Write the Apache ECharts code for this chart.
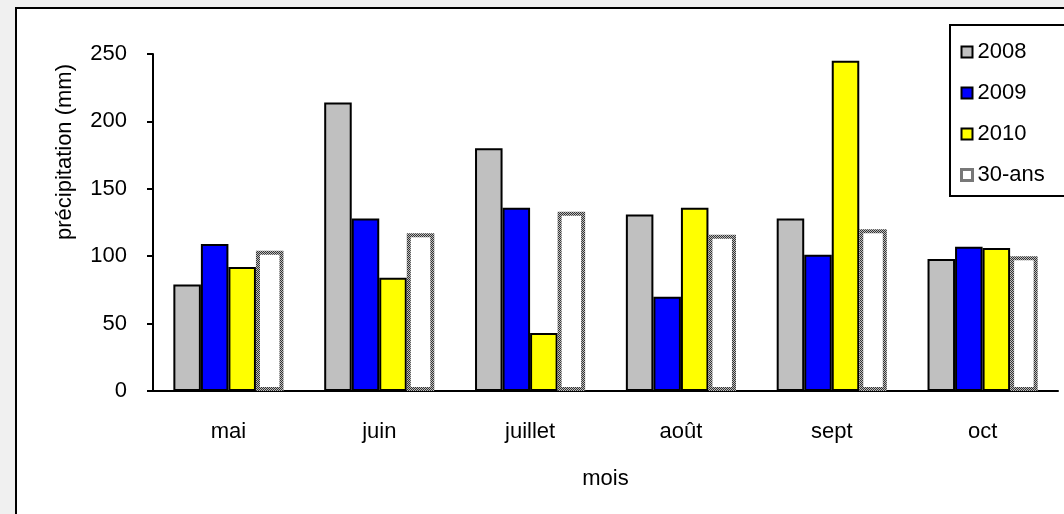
<!DOCTYPE html>
<html>
<head>
<meta charset="utf-8">
<script src="https://cdn.jsdelivr.net/npm/echarts@6/dist/echarts.min.js"></script>
<style>
  html, body { margin: 0; padding: 0; background: #f0f0f0; }
  #chart { width: 1064px; height: 514px; }
</style>
</head>
<body>
<div id="chart"></div>
<script>
// donnees
const months = ["mai", "juin", "juillet", "août", "sept", "oct"];
const seriesNames = ["2008", "2009", "2010", "30-ans"];
const v2008 = [79, 214, 180, 131, 128, 98];
const v2009 = [109, 128, 136, 70, 101, 107];
const v2010 = [92, 84, 43, 136, 245, 106];
const v30ans = [104, 117, 133, 116, 120, 100];
const yTicks = [0, 50, 100, 150, 200, 250];

const FONT = "Liberation Sans";
const FS = 22;

// motif a damier pour le contour des barres 30-ans
function checker() {
  let c = document.createElement("canvas");
  c.width = 2;
  c.height = 2;
  let ctx = c.getContext("2d");
  ctx.fillStyle = "#bdbdbd";
  ctx.fillRect(0, 0, 2, 2);
  ctx.fillStyle = "#333333";
  ctx.fillRect(0, 0, 1, 1);
  ctx.fillRect(1, 1, 1, 1);
  return { image: c, repeat: "repeat" };
}
const hatch = checker();

let chart = echarts.init(document.getElementById("chart"));

function bar(name, data, color, border) {
  return {
    name: name,
    type: "bar",
    data: data,
    barGap: "0%",
    barCategoryGap: "27%",
    itemStyle: {
      color: color,
      borderColor: border || "#000",
      borderWidth: border ? 4 : 2,
    },
    emphasis: { disabled: true },
  };
}

let legendData = seriesNames.map((n) => {
  if (n === "30-ans") {
    return { name: n, itemStyle: { color: "#fff", borderColor: hatch, borderWidth: 3 } };
  }
  return { name: n };
});

let option = {
  backgroundColor: "#f0f0f0",
  animation: false,
  textStyle: { fontFamily: FONT },
  graphic: [
    {
      type: "rect",
      z: -10,
      shape: { x: 16, y: 8, width: 1200, height: 700 },
      style: { fill: "#fff", stroke: "#000", lineWidth: 2 },
    },
    {
      type: "text",
      x: 65,
      y: 152,
      rotation: Math.PI / 2,
      style: {
        text: "précipitation (mm)",
        fontFamily: FONT,
        fontSize: FS,
        fill: "#000",
        align: "center",
        verticalAlign: "middle",
      },
    },
  ],
  legend: {
    orient: "vertical",
    left: 950,
    top: 25,
    padding: [16, 40, 10, 10],
    itemGap: 19,
    itemWidth: 11,
    itemHeight: 11,
    backgroundColor: "#fff",
    borderColor: "#000",
    borderWidth: 2,
    borderRadius: 0,
    icon: "rect",
    textStyle: { fontFamily: FONT, fontSize: FS, color: "#000" },
    data: legendData,
  },
  grid: { left: 153, top: 54, right: 6, bottom: 123 },
  xAxis: {
    type: "category",
    data: months,
    name: "mois",
    nameLocation: "middle",
    nameGap: 77,
    nameTextStyle: { fontFamily: FONT, fontSize: FS, color: "#000", verticalAlign: "top" },
    axisLine: { lineStyle: { color: "#000", width: 2 } },
    axisTick: { length: 7, lineStyle: { color: "#000", width: 2 } },
    axisLabel: { margin: 30, fontFamily: FONT, fontSize: FS, color: "#000" },
  },
  yAxis: {
    type: "value",
    min: yTicks[0],
    max: yTicks[yTicks.length - 1],
    interval: yTicks[1] - yTicks[0],
    axisLine: { show: true, lineStyle: { color: "#000", width: 2 } },
    axisTick: { show: true, length: 6, lineStyle: { color: "#000", width: 2 } },
    axisLabel: { margin: 26, fontFamily: FONT, fontSize: FS, color: "#000" },
    splitLine: { show: false },
  },
  series: [
    bar("2008", v2008, "#c0c0c0"),
    bar("2009", v2009, "#0000ff"),
    bar("2010", v2010, "#ffff00"),
    bar("30-ans", v30ans, "#ffffff", hatch),
  ],
};

chart.setOption(option);
</script>
</body>
</html>
